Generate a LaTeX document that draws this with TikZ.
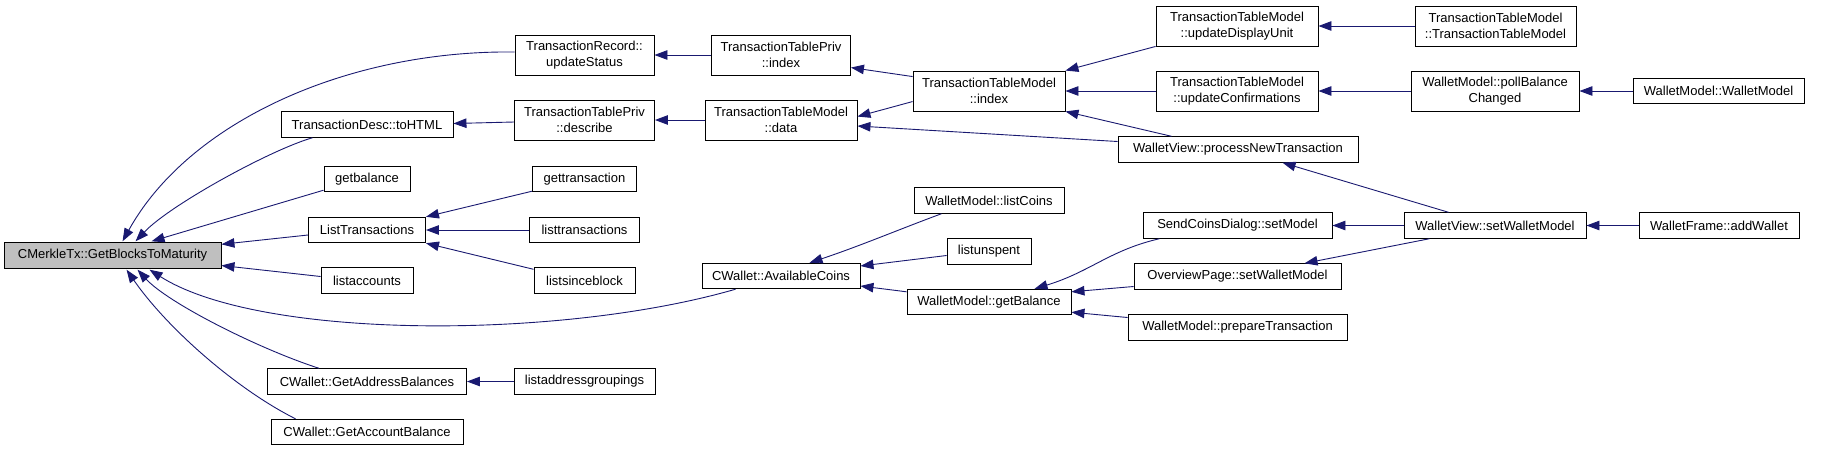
\documentclass[tikz,border=0pt]{standalone}
\usepackage{fontspec}
\setmainfont{Liberation Sans}
\usetikzlibrary{arrows.meta,calc}
\definecolor{edgeblue}{HTML}{191970}
\definecolor{rootgray}{HTML}{BFBFBF}
\tikzset{
  fn/.style={draw=black, line width=0.9pt, fill=white, inner sep=0pt, align=center,
    font=\fontsize{13}{15.5}\selectfont, minimum height=25.5pt},
  fn2/.style={fn, minimum height=40pt},
  call/.style={draw=edgeblue, line width=0.9pt, -{Triangle[length=13pt,width=9.5pt]}, fill=none},
}
\begin{document}
\begin{tikzpicture}[x=1pt,y=-1pt]
\useasboundingbox (0,0) rectangle (1821,451);
% column 1
\node[fn, fill=rootgray, minimum width=217pt] (n0) at (112.5,255.5) {CMerkleTx::GetBlocksToMaturity};
% column 2
\node[fn, minimum width=172pt] (n2) at (367,124.5) {TransactionDesc::toHTML};
\node[fn, minimum width=86pt] (n3) at (367,179) {getbalance};
\node[fn, minimum width=117pt] (n4) at (367,230) {ListTransactions};
\node[fn, minimum width=92pt] (n5) at (367,280.5) {listaccounts};
\node[fn, minimum width=199pt] (n6) at (367,381.5) {CWallet::GetAddressBalances};
\node[fn, minimum width=192pt] (n7) at (367,432) {CWallet::GetAccountBalance};
% column 3
\node[fn2, minimum width=139pt] (n1) at (584.5,55) {TransactionRecord::\\updateStatus};
\node[fn2, minimum width=140pt] (n8) at (584.5,120) {TransactionTablePriv\\::describe};
\node[fn, minimum width=104pt] (n9) at (584.5,179) {gettransaction};
\node[fn, minimum width=110pt] (n10) at (584.5,230) {listtransactions};
\node[fn, minimum width=101pt] (n11) at (584.5,280.5) {listsinceblock};
\node[fn, minimum width=141pt] (n12) at (584.5,381.5) {listaddressgroupings};
% column 4
\node[fn2, minimum width=139pt] (n13) at (781,55) {TransactionTablePriv\\::index};
\node[fn2, minimum width=152pt] (n14) at (781,120) {TransactionTableModel\\::data};
\node[fn, minimum width=158pt] (n15) at (781,276) {CWallet::AvailableCoins};
% column 5
\node[fn2, minimum width=152pt] (n16) at (989,91) {TransactionTableModel\\::index};
\node[fn, minimum width=150pt] (n17) at (989,200.5) {WalletModel::listCoins};
\node[fn, minimum width=84pt] (n18) at (989,251.5) {listunspent};
\node[fn, minimum width=164pt] (n19) at (989,302) {WalletModel::getBalance};
% column 6
\node[fn2, minimum width=162pt] (n20) at (1237,26) {TransactionTableModel\\::updateDisplayUnit};
\node[fn2, minimum width=162pt] (n21) at (1237,91) {TransactionTableModel\\::updateConfirmations};
\node[fn, minimum width=240pt] (n22) at (1238,149.5) {WalletView::processNewTransaction};
\node[fn, minimum width=189pt] (n23) at (1237.5,225.5) {SendCoinsDialog::setModel};
\node[fn, minimum width=207pt] (n24) at (1237.5,276.5) {OverviewPage::setWalletModel};
\node[fn, minimum width=219pt] (n25) at (1237.5,327.5) {WalletModel::prepareTransaction};
% column 7
\node[fn2, minimum width=161pt] (n26) at (1495.5,26) {TransactionTableModel\\::TransactionTableModel};
\node[fn2, minimum width=168pt] (n27) at (1495,91) {WalletModel::pollBalance\\Changed};
\node[fn, minimum width=182pt] (n28) at (1495,225.5) {WalletView::setWalletModel};
% column 8
\node[fn, minimum width=171pt] (n29) at (1718.5,91) {WalletModel::WalletModel};
\node[fn, minimum width=160pt] (n30) at (1719,225.5) {WalletFrame::addWallet};

% edges into n0
\draw[call] ($(n1.west)+(0,-3)$) .. controls (350,50) and (190,120) .. ($(n0.north west)+(119,-1)$);
\draw[call] ($(n2.south west)+(32,0)$) .. controls (270,150) and (170,205) .. ($(n0.north west)+(132,-1)$);
\draw[call] ($(n3.south west)+(0,-2)$) -- ($(n0.north west)+(148,-1)$);
\draw[call] ($(n4.west)+(0,5)$) -- ($(n0.north east)+(0,2)$);
\draw[call] ($(n5.west)+(0,-4)$) -- ($(n0.east)+(0,10)$);
\draw[call] ($(n15.south west)+(34,0)$) .. controls (560,340) and (260,340) .. ($(n0.south west)+(146,1)$);
\draw[call] ($(n6.north west)+(52,0)$) .. controls (259,349) and (168,303) .. ($(n0.south west)+(134,1)$);
\draw[call] ($(n7.north west)+(25,0)$) .. controls (236,389) and (167,328) .. ($(n0.south west)+(123,1)$);
% column 3 -> column 2
\draw[call] ($(n8.west)+(0,2)$) -- ($(n2.east)+(0,-1)$);
\draw[call] ($(n9.south west)+(0,-1)$) -- (n4.north east);
\draw[call] (n10.west) -- (n4.east);
\draw[call] ($(n11.north west)+(0,2)$) -- (n4.south east);
\draw[call] (n12.west) -- (n6.east);
% column 4 -> column 3
\draw[call] (n13.west) -- (n1.east);
\draw[call] (n14.west) -- (n8.east);
% column 5 -> column 4
\draw[call] ($(n16.north west)+(0,6)$) -- ($(n13.north east)+(0,33)$);
\draw[call] ($(n16.north west)+(0,31)$) -- ($(n14.north east)+(0,17)$);
\draw[call] ($(n17.south west)+(28,0)$) .. controls (900,229) and (860,246) .. ($(n15.north west)+(108,0)$);
\draw[call] ($(n18.west)+(0,4)$) -- ($(n15.east)+(0,-10)$);
\draw[call] ($(n19.north west)+(0,3)$) -- ($(n15.east)+(0,10)$);
% column 6 -> column 5
\draw[call] (n20.south west) -- (n16.north east);
\draw[call] (n21.west) -- (n16.east);
\draw[call] ($(n22.north west)+(54,0)$) -- (n16.south east);
\draw[call] ($(n22.west)+(0,-8)$) -- ($(n14.east)+(0,6)$);
\draw[call] ($(n23.south west)+(17,0)$) .. controls (1110,250) and (1090,272) .. ($(n19.north west)+(128,0)$);
\draw[call] ($(n24.west)+(0,10)$) -- ($(n19.north east)+(0,3)$);
\draw[call] ($(n25.west)+(0,-10)$) -- ($(n19.south east)+(0,-3)$);
% column 7 -> column 6
\draw[call] (n26.west) -- (n20.east);
\draw[call] (n27.west) -- (n21.east);
\draw[call] ($(n28.north west)+(45,0)$) -- ($(n22.south west)+(165,0)$);
\draw[call] (n28.west) -- (n23.east);
\draw[call] ($(n28.south west)+(26,0)$) -- ($(n24.north west)+(171,0)$);
% column 8 -> column 7
\draw[call] (n29.west) -- (n27.east);
\draw[call] (n30.west) -- (n28.east);
\end{tikzpicture}
\end{document}
